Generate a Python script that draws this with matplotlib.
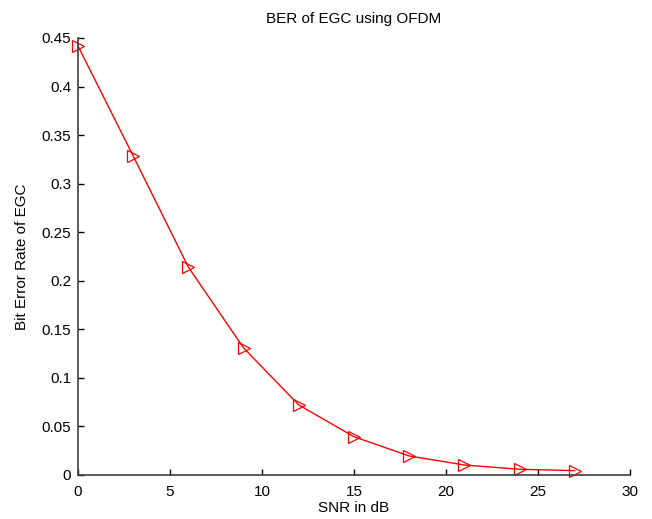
import matplotlib
matplotlib.use("Agg")
import matplotlib.pyplot as plt

snr = [0, 3, 6, 9, 12, 15, 18, 21, 24, 27]
ber = [0.4418, 0.3285, 0.214, 0.1308, 0.0721, 0.0394, 0.0196, 0.0103, 0.0059, 0.0045]
xticks = [0, 5, 10, 15, 20, 25, 30]
yticks = [0, 0.05, 0.1, 0.15, 0.2, 0.25, 0.3, 0.35, 0.4, 0.45]
yticklabels = ["0", "0.05", "0.1", "0.15", "0.2", "0.25", "0.3", "0.35", "0.4", "0.45"]

fs = 11
plt.rcParams['font.family'] = ['Liberation Sans', 'DejaVu Sans']
fig = plt.figure(figsize=(6.52, 5.19), dpi=100)
ax = fig.add_axes([78/652, 44/519, 552/652, 437/519])
ax.plot(snr, ber, color='red', lw=1.0, marker='>', markersize=8,
        markerfacecolor='none', markeredgecolor='red', markeredgewidth=0.9, clip_on=False)
ax.set_xlim(0, 30)
ax.set_ylim(0, 0.45)
ax.set_xticks(xticks)
ax.set_yticks(yticks)
ax.set_yticklabels(yticklabels)
for s in ['top', 'right']:
    ax.spines[s].set_visible(False)
for s in ['left', 'bottom']:
    ax.spines[s].set_color('#404040')
    ax.spines[s].set_linewidth(1.2)
ax.tick_params(direction='in', length=4, width=1, colors='black', labelsize=fs)
ax.tick_params(axis='x', pad=7)
ax.tick_params(axis='y', pad=5)
ax.set_xlabel('SNR in dB', fontsize=fs, labelpad=2)
ax.set_ylabel('Bit Error Rate of EGC', fontsize=fs, labelpad=9)
ax.set_title('BER of EGC using OFDM', fontsize=fs, pad=11)
fig.savefig('out.png', dpi=100)
